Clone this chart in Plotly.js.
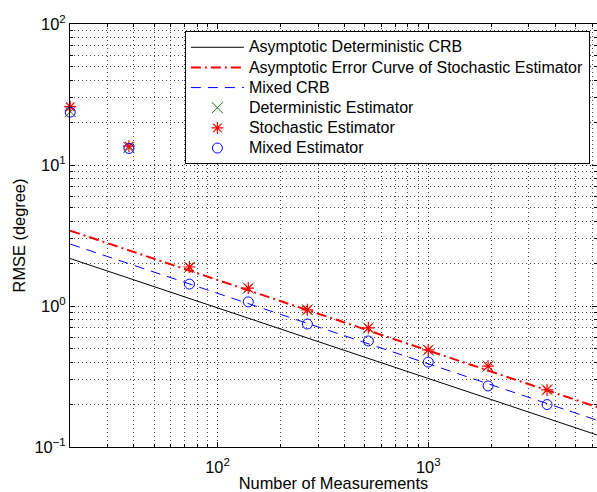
<!DOCTYPE html>
<html>
<head>
<meta charset="utf-8">
<script src="https://cdn.plot.ly/plotly-3.0.1.min.js"></script>
<style>
html,body{margin:0;padding:0;background:#fff;}
#chart{width:597px;height:492px;}
</style>
</head>
<body>
<div id="chart"></div>
<script>
// Measurements (x) for the estimator points
var measurements = [20, 38, 73.6, 140, 267, 520, 1000, 1923, 3664];
var deterministicRMSE = [23.9, 13.3, 1.88, 1.34, 0.94, 0.70, 0.486, 0.375, 0.255];
var stochasticRMSE    = [25.9, 13.6, 1.89, 1.34, 0.94, 0.70, 0.488, 0.375, 0.254];
var mixedRMSE         = [23.7, 13.1, 1.43, 1.07, 0.745, 0.565, 0.40, 0.271, 0.20];

// Asymptotic curves (straight lines on log-log axes), endpoints
var curveN = [20, 6400];
var detCRB = [2.17, 0.121];
var stochCurve = [3.42, 0.191];
var mixedCRB = [2.75, 0.154];

// Tick labels
var xTickVals = [100, 1000];
var xTickText = ['10<sup>2</sup>', '10<sup>3</sup>'];
var yTickVals = [0.1, 1, 10, 100];
var yTickText = ['10<sup>\u22121</sup>', '10<sup>0</sup>', '10<sup>1</sup>', '10<sup>2</sup>'];

var seriesNames = [
  'Asymptotic Deterministic CRB',
  'Asymptotic Error Curve of Stochastic Estimator',
  'Mixed CRB',
  'Deterministic Estimator',
  'Stochastic Estimator',
  'Mixed Estimator'
];

var FONT = 'Liberation Sans, Arial, Helvetica, sans-serif';
function legendLabel(s) { return '<span style="font-size:16px">' + s + '</span>'; }

var traces = [
  {x: curveN, y: detCRB, name: legendLabel(seriesNames[0]), mode: 'lines',
   line: {color: '#000000', width: 1}},
  {x: curveN, y: stochCurve, name: legendLabel(seriesNames[1]), mode: 'lines',
   line: {color: '#ff0000', width: 2, dash: '10px,4px,2px,4px'}},
  {x: curveN, y: mixedCRB, name: legendLabel(seriesNames[2]), mode: 'lines',
   line: {color: '#0000ff', width: 1, dash: '10px,7px'}},
  {x: measurements, y: deterministicRMSE, name: legendLabel(seriesNames[3]), mode: 'markers', cliponaxis: false,
   marker: {symbol: 'x-thin-open', size: 11, color: '#136f13', line: {color: '#136f13', width: 1}}},
  {x: measurements, y: stochasticRMSE, name: legendLabel(seriesNames[4]), mode: 'markers', cliponaxis: false,
   marker: {symbol: 'asterisk-open', size: 10, color: '#ff0000', line: {color: '#ff0000', width: 1.2}}},
  {x: measurements, y: mixedRMSE, name: legendLabel(seriesNames[5]), mode: 'markers', cliponaxis: false,
   marker: {symbol: 'circle-open', size: 10, color: '#0000ff', line: {color: '#0000ff', width: 1}}}
];

var gridDash = '1px,3px';
var axisCommon = {
  type: 'log',
  showline: true, linecolor: '#000', linewidth: 1, mirror: 'allticks',
  ticks: 'inside', ticklen: 5, tickcolor: '#000', tickwidth: 1,
  showgrid: true, gridcolor: '#222', gridwidth: 1, griddash: gridDash,
  zeroline: false, tickmode: 'array',
  tickfont: {family: FONT, size: 16.4, color: '#000'},
  minor: {dtick: 'D1', ticks: 'inside', ticklen: 3, tickcolor: '#000', showgrid: true,
          gridcolor: '#444', gridwidth: 1, griddash: gridDash},
  automargin: false
};

var layout = {
  width: 597, height: 492,
  margin: {l: 70, r: 0, t: 24, b: 45},
  paper_bgcolor: '#fff', plot_bgcolor: '#fff',
  font: {family: FONT, size: 16.4, color: '#000'},
  showlegend: true,
  legend: {x: 0.218, y: 0.983, xanchor: 'left', yanchor: 'top',
           bgcolor: '#fff', bordercolor: '#000', borderwidth: 1,
           font: {family: FONT, size: 13.2, color: '#000'},
           itemwidth: 53, tracegroupgap: 0},
  xaxis: Object.assign({}, axisCommon, {
    range: [1.3, 3.801],
    tickvals: xTickVals, ticktext: xTickText, ticklabelstandoff: 5,
    title: {text: 'Number of Measurements', font: {family: FONT, size: 16.4}, standoff: 4}
  }),
  yaxis: Object.assign({}, axisCommon, {
    range: [-1, 2],
    tickvals: yTickVals, ticktext: yTickText,
    title: {text: 'RMSE (degree)', font: {family: FONT, size: 16.4}, standoff: 4}
  }),
  hovermode: false
};

Plotly.newPlot('chart', traces, layout, {displayModeBar: false, staticPlot: true});
</script>
</body>
</html>
